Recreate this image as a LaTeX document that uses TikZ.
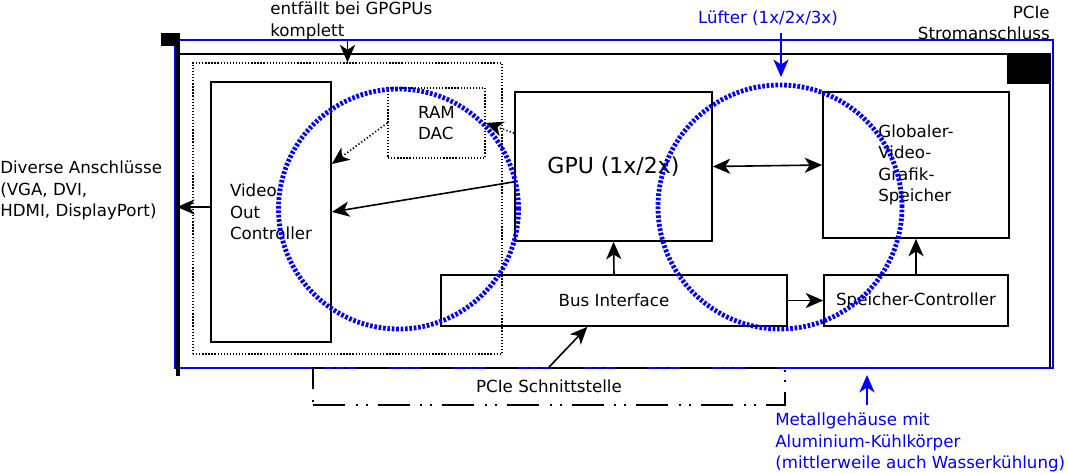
\documentclass[tikz,border=0pt]{standalone}
\usepackage{fontspec}
\setmainfont{DejaVu Sans}
\usetikzlibrary{arrows.meta,positioning}
\tikzset{
  sigarrow/.style={-{Stealth[length=4.6mm,width=4mm,inset=1.3mm]}, line width=1.2pt},
  sigdotted/.style={sigarrow, dash pattern=on 1pt off 1.6pt},
  sigboth/.style={{Stealth[length=4.6mm,width=4mm,inset=1.3mm]}-{Stealth[length=4.6mm,width=4mm,inset=1.3mm]}, line width=1.2pt},
  notearrow/.style={sigarrow, draw=blue}
}

\begin{document}
\begin{tikzpicture}[
  x=0.75pt, y=-0.75pt,
  font=\fontsize{12.5}{16}\selectfont,
  box/.style={draw, line width=1.3pt, align=left, inner sep=0pt},
  dotbox/.style={draw, line width=1pt, dash pattern=on 1pt off 1.3pt, inner sep=0pt},
  fanring/.style={circle, draw=blue, line width=3.6pt, dash pattern=on 2pt off 1.3pt, inner sep=0pt},
  note/.style={align=left, inner sep=0pt},
  bluenote/.style={note, text=blue}
]
\useasboundingbox (0,0) rectangle (1068,473);

% Card outline: board, metal casing, slot bracket, power plug
\node[draw, line width=1.3pt, minimum width=654pt, minimum height=235.5pt, inner sep=0pt] at (614,211) (board) {};
\node[draw=blue, line width=1.5pt, minimum width=658.5pt, minimum height=246pt, inner sep=0pt] at (614,204) (casing) {};
\draw[line width=3pt] (178,33) -- (178,376);
\fill (161,33) rectangle (176,46);
\node[fill, minimum width=32.25pt, minimum height=21.75pt, inner sep=0pt] at (1028.5,69.5) (power) {};

% Video output section
\node[dotbox, minimum width=231.75pt, minimum height=218.25pt] at (347.5,208.5) (vsection) {};
\node[box, minimum width=90pt, minimum height=195pt] at (271,212) (vout) {Video\\Out\\Controller};
\node[dotbox, align=left, minimum width=72.75pt, minimum height=52.5pt] at (436.5,123) (ramdac) {RAM\\DAC};

% GPU, memory and bus
\node[box, font=\fontsize{16.5}{20}\selectfont, minimum width=147.75pt, minimum height=111.75pt] at (613.5,166.5) (gpu) {GPU (1x/2x)};
\node[box, minimum width=139.5pt, minimum height=109.5pt] at (916,165) (vram) {Globaler-\\Video-\\Grafik-\\Speicher};
\node[box, minimum width=259.5pt, minimum height=38.25pt] at (614,300.5) (busif) {Bus Interface};
\node[box, minimum width=138pt, minimum height=38.25pt] at (916,300.5) (memctl) {Speicher-Controller};
\node[draw, line width=1.3pt, dash pattern=on 24pt off 8pt on 1.5pt off 6pt on 1.5pt off 7.5pt, minimum width=354pt, minimum height=27.75pt, inner sep=0pt] at (549,386.5) (pcie) {PCIe Schnittstelle};

% Fans
\node[fanring, minimum size=180pt] at (398.5,209) (fanleft) {};
\node[fanring, minimum size=183pt] at (780,207) (fanright) {};

% Labels round the card
\node[note, anchor=north west] at (270,2) (gpgpu) {entfällt bei GPGPUs\\komplett};
\node[note, align=right, anchor=north east] at (1050,6) (powerlabel) {PCIe\\Stromanschluss};
\node[bluenote, anchor=base] at (768,24) (fanlabel) {Lüfter (1x/2x/3x)};
\node[note, anchor=north west] at (0,161) (ports) {Diverse Anschlüsse\\(VGA, DVI,\\HDMI, DisplayPort)};
\node[bluenote, anchor=north west] at (775,413) (metal) {Metallgehäuse mit\\Aluminium-Kühlkörper\\(mittlerweile auch Wasserkühlung)};

\coordinate (fantip) at (781,77);
\coordinate (metaltip) at (867,375);
\draw[notearrow, shorten <=5pt] (fanlabel.south -| fantip) -- (fantip);
\draw[notearrow, shorten <=6pt] (metal.north -| metaltip) -- (metaltip);
\draw[sigarrow] (vsection.north |- gpgpu.south) -- (vsection.north);

% Signal paths
\draw[sigarrow] (busif.north) -- (gpu.south);
\draw[sigarrow] (busif.east) -- (memctl.west);
\draw[sigarrow] (memctl.north) -- (vram.south);
\draw[sigboth] (gpu.east) -- (vram.west);
\draw[sigarrow] ([yshift=-11.5pt]gpu.west) -- (vout.east);
\draw[sigdotted] ([yshift=25pt]gpu.west) -- (ramdac.east);
\draw[sigdotted] (ramdac.west) -- ([yshift=36pt]vout.east);
\draw[sigarrow] (pcie.north) -- ([xshift=-20pt]busif.south);
\draw[sigarrow] ([yshift=3.75pt]vout.west) -- ([yshift=3.75pt]vout.west -| board.west);
\end{tikzpicture}
\end{document}
